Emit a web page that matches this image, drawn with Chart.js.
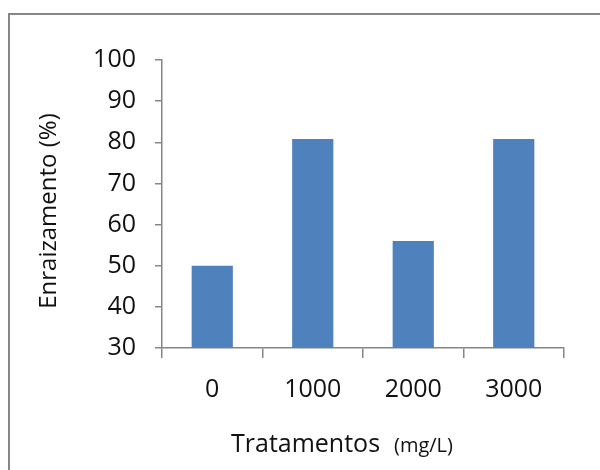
<!DOCTYPE html>
<html>
<head>
    <meta charset="utf-8">
    <title>Enraizamento por tratamento</title>
    <script src="https://cdn.jsdelivr.net/npm/chart.js"></script>
    <style>
        html, body { margin: 0; padding: 0; background: #fff; overflow: hidden; }
        #wrap { position: relative; width: 600px; height: 470px; }
    </style>
</head>
<body>
    <div id="wrap">
        <canvas id="rootingChart" width="600" height="470"></canvas>
    </div>
    <script>
        // Data
        const treatments = ['0', '1000', '2000', '3000'];
        const rootingPct = [50, 80.8, 56, 80.8];
        const yTicks = { min: 30, max: 100, step: 10 };

        const axisGray = '#868686';
        const barBlue = '#4F81BD';
        const fontFamily = '"Open Sans", "Liberation Sans", sans-serif';

        // Frame and axis titles, drawn straight on the canvas
        const framePlugin = {
            id: 'frame',
            beforeDraw(chart) {
                const ctx = chart.ctx;
                ctx.save();
                ctx.strokeStyle = axisGray;
                ctx.lineWidth = 2;
                ctx.beginPath();
                ctx.moveTo(9, 480);
                ctx.lineTo(9, 14);
                ctx.lineTo(610, 14);
                ctx.stroke();
                ctx.restore();
            },
            afterDraw(chart) {
                const ctx = chart.ctx;
                ctx.save();
                ctx.fillStyle = '#111';

                // y title
                ctx.translate(49, 211);
                ctx.rotate(-Math.PI / 2);
                ctx.textAlign = 'center';
                ctx.textBaseline = 'middle';
                ctx.font = '24px ' + fontFamily;
                ctx.fillText('Enraizamento (%)', 0, 0);
                ctx.setTransform(1, 0, 0, 1, 0, 0);

                // x title, with a smaller unit
                const main = 'Tratamentos';
                const unit = '(mg/L)';
                ctx.textAlign = 'left';
                ctx.textBaseline = 'alphabetic';
                ctx.font = '25px ' + fontFamily;
                ctx.fillText(main, 231, 452);
                ctx.font = '20px ' + fontFamily;
                ctx.fillText(unit, 394, 452);
                ctx.restore();
            }
        };

        new Chart(document.getElementById('rootingChart'), {
            type: 'bar',
            data: {
                labels: treatments,
                datasets: [{
                    label: 'Enraizamento',
                    data: rootingPct,
                    backgroundColor: barBlue,
                    borderWidth: 0,
                    categoryPercentage: 1.0,
                    barPercentage: 0.41
                }]
            },
            options: {
                responsive: false,
                animation: false,
                events: [],
                layout: {
                    padding: { top: 60, right: 36, bottom: 0, left: 0 }
                },
                plugins: {
                    legend: { display: false },
                    tooltip: { enabled: false }
                },
                scales: {
                    x: {
                        afterFit(scale) { scale.height = 122; },
                        grid: {
                            offset: true,
                            drawOnChartArea: false,
                            drawTicks: true,
                            tickLength: 10,
                            color: axisGray,
                            lineWidth: 1.5
                        },
                        border: { color: axisGray, width: 1.5 },
                        ticks: {
                            color: '#111',
                            padding: 17,
                            font: { family: fontFamily, size: 25 }
                        }
                    },
                    y: {
                        min: yTicks.min,
                        max: yTicks.max,
                        afterFit(scale) { scale.width = 162; },
                        grid: {
                            drawOnChartArea: false,
                            drawTicks: true,
                            tickLength: 7,
                            color: axisGray,
                            lineWidth: 1.5
                        },
                        border: { color: axisGray, width: 1.5 },
                        ticks: {
                            stepSize: yTicks.step,
                            color: '#111',
                            padding: 19,
                            font: { family: fontFamily, size: 25 }
                        }
                    }
                }
            },
            plugins: [framePlugin]
        });
    </script>
</body>
</html>
